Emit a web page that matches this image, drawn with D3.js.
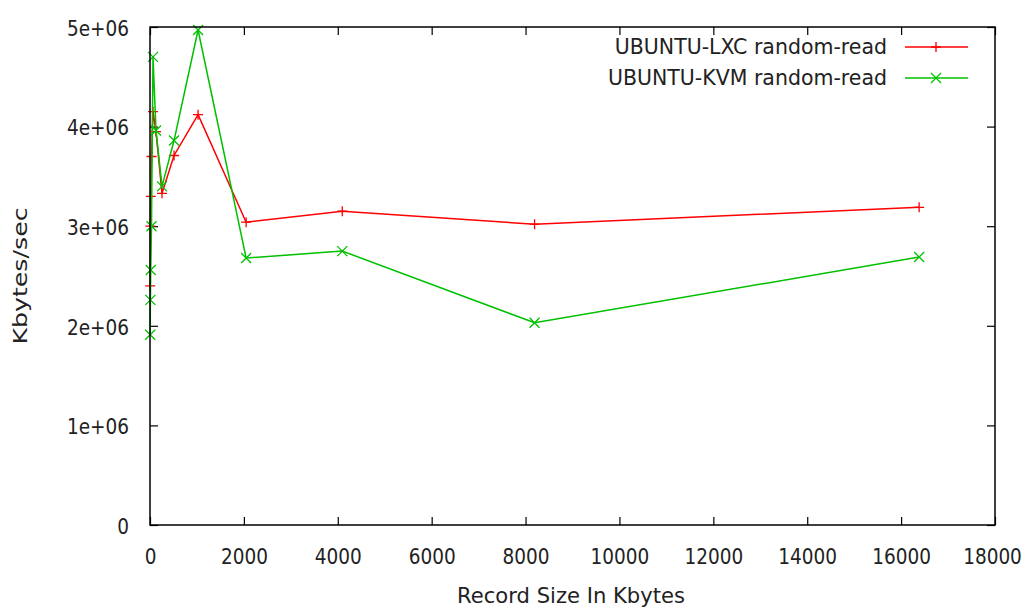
<!DOCTYPE html>
<html>
<head>
<meta charset="utf-8">
<script src="https://cdn.jsdelivr.net/npm/d3@7"></script>
<style>
  body { margin: 0; background: #fff; }
  text { font-family: "DejaVu Sans", sans-serif; fill: #222; }
</style>
</head>
<body>
<div id="chart"></div>
<script>
// record sizes (Kbytes) used by the iozone run
var recordSizes = [4, 8, 16, 32, 64, 128, 256, 512, 1024, 2048, 4096, 8192, 16384];
// Kbytes/sec
var lxcValues = [2400000, 3000000, 3300000, 3700000, 4150000, 3950000, 3330000, 3710000, 4120000, 3040000, 3150000, 3020000, 3190000];
var kvmValues = [1910000, 2260000, 2560000, 3000000, 4700000, 3960000, 3400000, 3860000, 4970000, 2680000, 2750000, 2030000, 2690000];
var seriesNames = ["UBUNTU-LXC random-read", "UBUNTU-KVM random-read"];
var xTicks = [0, 2000, 4000, 6000, 8000, 10000, 12000, 14000, 16000, 18000];
var yTicks = [0, 1000000, 2000000, 3000000, 4000000, 5000000];

var W = 1030, H = 609;
var margin = {top: 27, right: 35, bottom: 84, left: 150};
var width = W - margin.left - margin.right,
    height = H - margin.top - margin.bottom;

var svg = d3.select("#chart").append("svg")
    .attr("width", W)
    .attr("height", H);

var g = svg.append("g")
    .attr("transform", "translate(" + margin.left + "," + margin.top + ")");

var x = d3.scaleLinear().domain([0, 18000]).range([0, width]);
var y = d3.scaleLinear().domain([0, 5000000]).range([height, 0]);

var yFmt = function(d) { return d === 0 ? "0" : (d / 1e6) + "e+06"; };

// squeeze text horizontally (the gnuplot font is narrow)
function condense(sel, f) {
  sel.each(function() {
    var t = d3.select(this);
    var x0 = +t.attr("x") || 0;
    t.attr("x", x0 / f).attr("transform", "scale(" + f + ",1)");
  });
}

// ticks point inwards, mirrored on top and right
g.append("g")
    .attr("class", "xaxis")
    .attr("transform", "translate(0," + height + ")")
    .call(d3.axisBottom(x).tickValues(xTicks).tickSize(-8).tickPadding(23).tickFormat(d3.format("d")));
g.append("g")
    .call(d3.axisTop(x).tickValues(xTicks).tickSize(-8).tickFormat(""));
g.append("g")
    .attr("class", "yaxis")
    .call(d3.axisLeft(y).tickValues(yTicks).tickSize(-8).tickPadding(21).tickFormat(yFmt));
g.append("g")
    .attr("transform", "translate(" + width + ",0)")
    .call(d3.axisRight(y).tickValues(yTicks).tickSize(-8).tickFormat(""));

g.selectAll(".domain").remove();
g.selectAll(".tick line").attr("stroke", "#000").attr("stroke-width", 1.2);
g.selectAll(".tick text").style("font-size", "22px").attr("fill", "#222");
g.selectAll(".yaxis .tick text").attr("dy", "0.38em");
// last x label sits at the window edge, keep it inside
g.selectAll(".xaxis .tick text").filter(function(d) { return d === 18000; }).attr("x", -3);
condense(g.selectAll(".tick text"), 0.84);

var series = [
  {name: seriesNames[0], values: lxcValues, color: "#ff0000", mark: "plus"},
  {name: seriesNames[1], values: kvmValues, color: "#00c000", mark: "cross"}
];

var line = d3.line()
    .x(function(d, i) { return x(recordSizes[i]); })
    .y(function(d) { return y(d); });

function marker(sel, type, color) {
  var s = 5;
  if (type === "plus") {
    sel.append("path").attr("d", "M" + (-s) + ",0H" + s + "M0," + (-s) + "V" + s);
  } else {
    sel.append("path").attr("d", "M" + (-s) + "," + (-s) + "L" + s + "," + s + "M" + (-s) + "," + s + "L" + s + "," + (-s));
  }
  sel.selectAll("path").attr("stroke", color).attr("stroke-width", 1.3).attr("fill", "none");
}

series.forEach(function(s, k) {
  g.append("path")
      .datum(s.values)
      .attr("d", line)
      .attr("fill", "none")
      .attr("stroke", s.color)
      .attr("stroke-width", 1.5);

  g.selectAll(".pt" + k)
      .data(s.values)
      .enter().append("g")
      .attr("class", "pt" + k)
      .attr("transform", function(d, i) { return "translate(" + x(recordSizes[i]) + "," + y(d) + ")"; })
      .each(function() { marker(d3.select(this), s.mark, s.color); });

  // legend
  var ly = 20 + k * 31;
  var lg = g.append("g").attr("transform", "translate(0," + ly + ")");
  lg.append("text")
      .attr("x", 737)
      .attr("dy", "0.35em")
      .attr("text-anchor", "end")
      .style("font-size", "20.5px")
      .text(s.name);
  lg.append("line")
      .attr("x1", 755).attr("x2", 818)
      .attr("stroke", s.color).attr("stroke-width", 1.5);
  var mk = lg.append("g").attr("transform", "translate(786,0)");
  marker(mk, s.mark, s.color);
});

// frame
g.append("rect")
    .attr("width", width)
    .attr("height", height)
    .attr("fill", "none")
    .attr("stroke", "#000")
    .attr("stroke-width", 1.5);

svg.append("text")
    .attr("transform", "translate(27," + (margin.top + height / 2) + ") rotate(-90)")
    .attr("text-anchor", "middle")
    .attr("textLength", 137)
    .attr("lengthAdjust", "spacingAndGlyphs")
    .style("font-size", "20px")
    .text("Kbytes/sec");

svg.append("text")
    .attr("x", 571)
    .attr("y", 603)
    .attr("text-anchor", "middle")
    .attr("textLength", 228)
    .attr("lengthAdjust", "spacingAndGlyphs")
    .style("font-size", "21px")
    .text("Record Size In Kbytes");
</script>
</body>
</html>
